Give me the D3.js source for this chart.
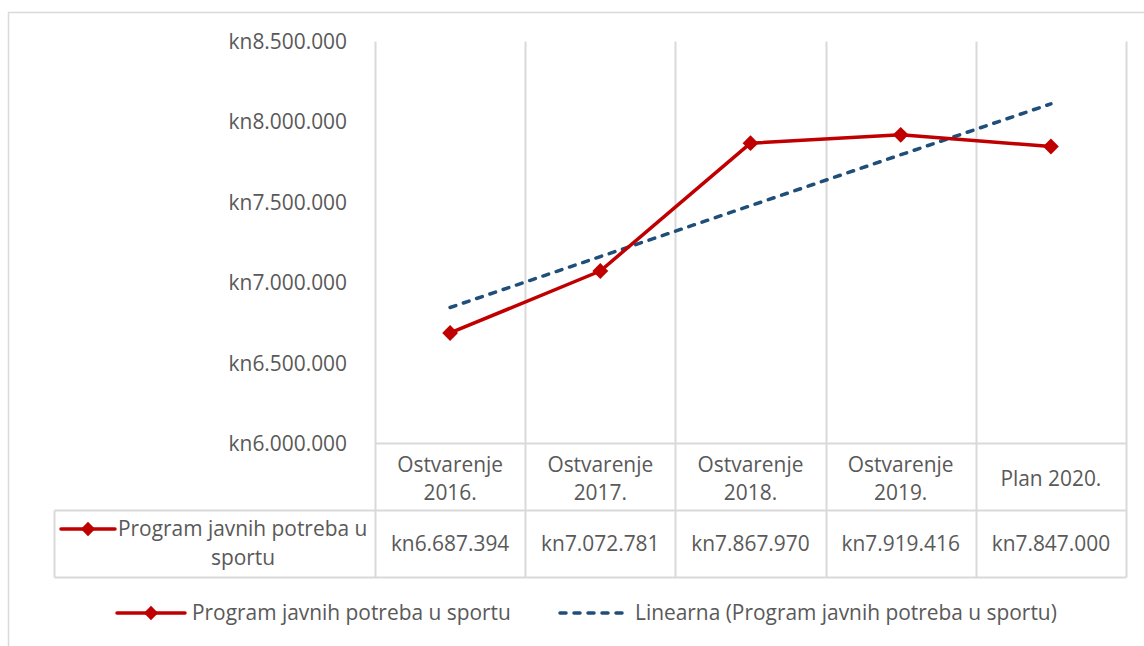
<!DOCTYPE html>
<html>
<head>
<meta charset="utf-8">
<script src="https://cdn.jsdelivr.net/npm/d3@7"></script>
<style>
  body { margin: 0; background: #fff; }
  svg text { font-family: "Open Sans", "Noto Sans", sans-serif; fill: #595959; font-size: 20.9px; }
</style>
</head>
<body>
<script>
// chart data
var categories = [["Ostvarenje", "2016."], ["Ostvarenje", "2017."], ["Ostvarenje", "2018."], ["Ostvarenje", "2019."], ["Plan 2020."]];
var values = [6687394, 7072781, 7867970, 7919416, 7847000];
var valueLabels = ["kn6.687.394", "kn7.072.781", "kn7.867.970", "kn7.919.416", "kn7.847.000"];
var yTicks = [6000000, 6500000, 7000000, 7500000, 8000000, 8500000];
var seriesName = "Program javnih potreba u sportu";
var tableName = ["Program javnih potreba u", "sportu"];
var trendName = "Linearna (Program javnih potreba u sportu)";

var width = 1144, height = 646;
var red = "#C00000", blue = "#1F4E79", grid = "#D9D9D9";

var svg = d3.select("body").append("svg")
    .attr("width", width)
    .attr("height", height);

// chart frame
svg.append("path")
    .attr("d", "M8.5," + height + "V12.5H" + width)
    .attr("fill", "none")
    .attr("stroke", grid)
    .attr("stroke-width", 1.5);

var x = d3.scaleBand()
    .domain(d3.range(values.length))
    .range([375, 1126]);

var y = d3.scaleLinear()
    .domain([6000000, 8500000])
    .range([443.5, 41.5]);

var fmt = function(v){
    return "kn" + d3.format(",")(v).replace(/,/g, ".");
};

// y axis labels
svg.selectAll(".ytick")
    .data(yTicks)
    .enter()
    .append("text")
    .attr("class", "ytick")
    .attr("x", 347)
    .attr("y", function(d){ return y(d); })
    .attr("dy", "0.36em")
    .attr("text-anchor", "end")
    .text(fmt);

// table rows
var rowTop = y.range()[0], rowMid = 510.5, rowBot = 577.5, tableLeft = 54.5;

var lines = svg.append("g")
    .attr("stroke", grid)
    .attr("stroke-width", 2)
    .attr("fill", "none");

// vertical grid lines through the table
lines.selectAll(".vgrid")
    .data(d3.range(values.length + 1))
    .enter()
    .append("line")
    .attr("x1", function(i){ return Math.round(x.range()[0] + i * x.bandwidth()) + 0.5; })
    .attr("x2", function(i){ return Math.round(x.range()[0] + i * x.bandwidth()) + 0.5; })
    .attr("y1", y.range()[1])
    .attr("y2", rowBot);

lines.append("line").attr("x1", x.range()[0]).attr("x2", x.range()[1]).attr("y1", rowTop).attr("y2", rowTop);
lines.append("line").attr("x1", tableLeft).attr("x2", x.range()[1]).attr("y1", rowMid).attr("y2", rowMid);
lines.append("line").attr("x1", tableLeft).attr("x2", x.range()[1]).attr("y1", rowBot).attr("y2", rowBot);
lines.append("line").attr("x1", tableLeft).attr("x2", tableLeft).attr("y1", rowMid).attr("y2", rowBot);

// category labels
var cats = svg.selectAll(".cat")
    .data(categories)
    .enter()
    .append("text")
    .attr("class", "cat")
    .attr("text-anchor", "middle")
    .attr("x", function(d, i){ return x(i) + x.bandwidth() / 2; })
    .attr("y", function(d){ return d.length > 1 ? 472 : 486; });

cats.selectAll("tspan")
    .data(function(d){ return d; })
    .enter()
    .append("tspan")
    .attr("x", function(){ return d3.select(this.parentNode).attr("x"); })
    .attr("dy", function(d, i){ return i ? 28 : 0; })
    .text(function(d){ return d; });

// values row
svg.selectAll(".val")
    .data(valueLabels)
    .enter()
    .append("text")
    .attr("class", "val")
    .attr("text-anchor", "middle")
    .attr("x", function(d, i){ return x(i) + x.bandwidth() / 2; })
    .attr("y", 551)
    .text(function(d){ return d; });

// legend key drawing
function lineKey(g, x0, x1, cy){
    g.append("line")
        .attr("x1", x0).attr("x2", x1)
        .attr("y1", cy).attr("y2", cy)
        .attr("stroke", red)
        .attr("stroke-width", 3.5)
        .attr("stroke-linecap", "round");
    g.append("path")
        .attr("d", d3.symbol().type(d3.symbolDiamond2).size(130))
        .attr("transform", "translate(" + ((x0 + x1) / 2) + "," + cy + ")")
        .attr("fill", red);
}

// series name in table
lineKey(svg, 61, 115, 529);
svg.append("text")
    .attr("x", 118).attr("y", 536)
    .text(tableName[0]);
svg.append("text")
    .attr("x", 243).attr("y", 565)
    .attr("text-anchor", "middle")
    .text(tableName[1]);

// linear trend
var n = values.length;
var xm = d3.mean(d3.range(n)), ym = d3.mean(values);
var slope = d3.sum(values, function(v, i){ return (i - xm) * (v - ym); }) /
    d3.sum(d3.range(n), function(i){ return (i - xm) * (i - xm); });
var trend = d3.range(n).map(function(i){ return ym + slope * (i - xm); });

var cx = function(i){ return x(i) + x.bandwidth() / 2; };

var linePath = d3.line()
    .x(function(d, i){ return cx(i); })
    .y(function(d){ return y(d); });

svg.append("path")
    .datum(trend)
    .attr("d", linePath)
    .attr("fill", "none")
    .attr("stroke", blue)
    .attr("stroke-width", 3.5)
    .attr("stroke-dasharray", "6,8")
    .attr("stroke-linecap", "round");

svg.append("path")
    .datum(values)
    .attr("d", linePath)
    .attr("fill", "none")
    .attr("stroke", red)
    .attr("stroke-width", 3.5)
    .attr("stroke-linejoin", "round");

svg.selectAll(".marker")
    .data(values)
    .enter()
    .append("path")
    .attr("class", "marker")
    .attr("d", d3.symbol().type(d3.symbolDiamond2).size(160))
    .attr("transform", function(d, i){ return "translate(" + cx(i) + "," + y(d) + ")"; })
    .attr("fill", red);

// bottom legend
lineKey(svg, 117, 185, 613);
svg.append("text")
    .attr("x", 192).attr("y", 620)
    .text(seriesName);

svg.append("line")
    .attr("x1", 560).attr("x2", 628)
    .attr("y1", 613).attr("y2", 613)
    .attr("stroke", blue)
    .attr("stroke-width", 3.5)
    .attr("stroke-dasharray", "6,8")
    .attr("stroke-linecap", "round");
svg.append("text")
    .attr("x", 635).attr("y", 620)
    .text(trendName);
</script>
</body>
</html>
